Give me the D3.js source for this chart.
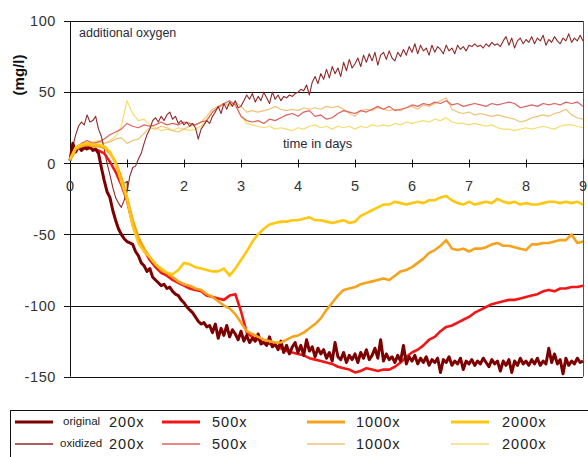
<!DOCTYPE html>
<html>
<head>
<meta charset="utf-8">
<script src="https://cdn.jsdelivr.net/npm/d3@7"></script>
<style>
  body { margin: 0; background: #fff; }
  svg { display: block; font-family: Arial, "Liberation Sans", sans-serif; }
</style>
</head>
<body>
<svg id="chart" width="588" height="457"></svg>
<script>
// Sampling interval (days) of each series
const fineStep = 0.05;   // 200x series
const coarseStep = 0.1;  // 500x, 1000x, 2000x series

// Oxygen difference (mg/l), original samples
const original200x = [
  2,14,8,12,9,11,10,12,9,10,7,-3,-12,-20,-24,-33,-40,-46,-50,-53,
  -55,-56,-57,-62,-65,-70,-72,-76,-74,-80,-82,-84,-86,-85,-88,-87,-90,-92,-93,-96,
  -98,-101,-103,-105,-108,-111,-113,-112,-115,-114,-119,-113,-123,-116,-121,-114,-122,-117,-120,-124,
  -118,-125,-121,-126,-123,-125,-120,-127,-126,-128,-122,-129,-127,-131,-125,-133,-128,-134,-129,-126,
  -133,-128,-135,-124,-132,-129,-136,-130,-134,-131,-137,-133,-139,-126,-136,-138,-133,-140,-135,-138,
  -134,-140,-133,-137,-131,-138,-135,-130,-137,-124,-139,-134,-138,-136,-140,-135,-139,-128,-141,-136,
  -139,-135,-141,-137,-140,-136,-142,-138,-140,-137,-147,-138,-140,-136,-142,-139,-141,-137,-145,-139,
  -141,-138,-142,-139,-141,-137,-140,-143,-138,-141,-139,-146,-139,-142,-138,-147,-139,-142,-137,-141,
  -139,-142,-138,-141,-137,-142,-139,-141,-130,-140,-134,-141,-138,-148,-137,-142,-139,-141,-137,-140,
  -139
];
const original500x = [
  3,10,12,11,10,9,7,1,-6,-15,
  -26,-43,-54,-61,-68,-73,-77,-79,-82,-84,
  -86,-88,-89,-90,-93,-94,-95,-96,-93,-92,
  -104,-119,-122,-124,-126,-127,-128,-130,-132,-133,
  -134,-135,-137,-138,-139,-140,-141,-143,-144,-145,
  -147,-146,-144,-145,-146,-145,-145,-143,-140,-136,
  -133,-131,-128,-124,-122,-118,-115,-114,-112,-110,
  -108,-105,-103,-101,-99,-98,-97,-96,-96,-95,
  -94,-93,-92,-90,-89,-90,-88,-88,-87,-87,
  -86
];
const original1000x = [
  2,10,12,13,12,12,11,7,1,-10,
  -24,-40,-52,-60,-66,-71,-75,-77,-80,-83,
  -85,-86,-88,-89,-92,-94,-97,-100,-102,-106,
  -112,-118,-120,-122,-124,-125,-126,-126,-124,-122,
  -121,-119,-116,-113,-109,-103,-98,-93,-89,-88,
  -87,-85,-84,-83,-82,-81,-82,-79,-76,-75,
  -73,-70,-67,-63,-61,-58,-54,-60,-61,-60,
  -62,-60,-60,-59,-57,-56,-58,-58,-59,-60,
  -61,-57,-57,-56,-56,-55,-54,-54,-50,-56,
  -55
];
const original2000x = [
  3,11,13,14,13,13,12,8,0,-13,
  -25,-44,-56,-62,-66,-71,-74,-77,-78,-75,
  -70,-71,-73,-74,-75,-76,-76,-74,-79,-74,
  -68,-62,-55,-50,-46,-43,-42,-41,-41,-40,
  -40,-39,-38,-40,-40,-41,-42,-41,-40,-42,
  -41,-37,-35,-33,-31,-29,-29,-27,-28,-29,
  -28,-27,-28,-26,-26,-24,-23,-26,-28,-29,
  -27,-29,-28,-27,-28,-25,-27,-28,-27,-29,
  -28,-29,-29,-28,-27,-27,-28,-27,-28,-27,
  -29
];

// Oxygen difference (mg/l), oxidized samples
const oxidized200x = [
  2,12,20,26,29,27,34,29,30,33,24,19,10,0,-8,-17,-24,-28,-31,-26,
  -20,-9,-3,-2,3,7,14,20,24,30,32,29,33,30,34,36,31,33,28,30,
  27,29,26,28,25,17,24,27,30,28,33,36,40,35,42,38,43,40,44,39,
  40,44,48,45,49,43,47,44,50,46,42,50,45,48,44,47,46,48,47,49,
  50,52,51,55,48,57,61,56,63,59,66,60,68,63,67,61,71,65,73,67,
  70,74,68,76,71,77,72,78,69,76,78,73,79,74,72,78,75,80,76,82,
  78,84,77,83,79,81,76,83,78,82,80,77,83,79,81,77,83,80,82,79,
  83,82,84,82,83,81,84,82,85,83,84,82,86,89,83,88,81,86,88,84,
  87,85,89,84,88,86,90,83,87,85,89,86,84,88,86,91,85,88,86,90,
  86
];
const oxidized500x = [
  3,10,14,16,14,15,17,20,22,24,
  28,26,25,27,26,27,29,27,28,27,
  29,28,27,29,30,36,39,42,44,41,
  33,30,29,30,28,31,30,32,34,35,
  33,36,37,33,34,31,32,35,37,36,
  35,37,36,38,40,38,40,37,38,39,
  41,40,42,41,43,42,44,41,42,40,
  41,42,41,40,42,41,42,43,42,39,
  40,41,40,42,41,42,41,43,42,43,
  40
];
const oxidized1000x = [
  2,8,12,14,13,15,14,15,17,18,
  14,16,17,21,25,24,26,25,23,22,
  24,26,27,29,33,38,40,42,41,43,
  40,36,37,36,37,38,40,38,37,38,
  37,39,38,39,38,40,39,40,38,35,
  33,37,38,37,39,38,37,38,37,39,
  40,38,41,40,42,44,46,38,36,35,
  36,34,35,34,33,34,33,32,31,29,
  30,32,33,34,33,35,36,38,34,32,
  31
];
const oxidized2000x = [
  3,9,13,14,15,16,14,16,19,26,
  44,35,30,31,27,25,23,24,23,25,
  24,23,24,26,31,36,40,42,40,42,
  33,28,27,26,25,26,24,25,24,23,
  25,24,26,27,25,26,24,26,25,26,
  24,26,25,27,26,27,26,28,27,29,
  28,29,30,29,31,30,32,29,28,28,
  27,28,27,26,27,25,24,24,23,24,
  25,24,25,26,25,24,26,27,27,26,
  25
];

// Axis ticks
const xTicks = [0, 1, 2, 3, 4, 5, 6, 7, 8, 9];
const yTicks = [100, 50, 0, -50, -100, -150];

// Series: name, values, sampling step, color, width, legend slot
const seriesList = [
  { key: "oxidized 2000x", values: oxidized2000x, step: coarseStep, color: "#f6dc6c", width: 1.2, col: 3, row: 1, label: "2000x" },
  { key: "oxidized 1000x", values: oxidized1000x, step: coarseStep, color: "#f0c277", width: 1.2, col: 2, row: 1, label: "1000x" },
  { key: "oxidized 500x",  values: oxidized500x,  step: coarseStep, color: "#de6262", width: 1.2, col: 1, row: 1, label: "500x" },
  { key: "oxidized 200x",  values: oxidized200x,  step: fineStep,   color: "#8e2a2a", width: 1.1, col: 0, row: 1, label: "200x", prefix: "oxidized" },
  { key: "original 500x",  values: original500x,  step: coarseStep, color: "#f31616", width: 2.6, col: 1, row: 0, label: "500x" },
  { key: "original 200x",  values: original200x,  step: fineStep,   color: "#7d0000", width: 3,   col: 0, row: 0, label: "200x", prefix: "original" },
  { key: "original 1000x", values: original1000x, step: coarseStep, color: "#f6a21c", width: 2.6, col: 2, row: 0, label: "1000x" },
  { key: "original 2000x", values: original2000x, step: coarseStep, color: "#ffc70f", width: 2.6, col: 3, row: 0, label: "2000x" }
];

const svg = d3.select("#chart");
const x = d3.scaleLinear().domain([0, 9]).range([70, 583]);
const y = d3.scaleLinear().domain([-150, 100]).range([376.7, 21]);
const textColor = "#333";

// Horizontal grid lines with short outer ticks
svg.append("g").selectAll("line").data(yTicks).join("line")
  .attr("x1", 64).attr("x2", x(9))
  .attr("y1", d => Math.round(y(d)) + 0.5).attr("y2", d => Math.round(y(d)) + 0.5)
  .attr("stroke", "#111").attr("stroke-width", 1);

// Y tick labels
svg.append("g").selectAll("text").data(yTicks).join("text")
  .attr("x", 56).attr("y", d => y(d)).attr("dy", "0.36em")
  .attr("text-anchor", "end").attr("font-size", 14.5).attr("fill", textColor)
  .attr("letter-spacing", 0.6)
  .text(d => d);

// Left axis and right border of the plot area
svg.append("line").attr("x1", 70.5).attr("x2", 70.5).attr("y1", y(100)).attr("y2", y(-150))
  .attr("stroke", "#111");
svg.append("line").attr("x1", x(9) + 0.5).attr("x2", x(9) + 0.5).attr("y1", y(100)).attr("y2", y(-150))
  .attr("stroke", "#555");

// Day ticks crossing the zero line
const y0 = Math.round(y(0)) + 0.5;
svg.append("g").selectAll("line").data(xTicks.slice(1)).join("line")
  .attr("x1", d => Math.round(x(d)) + 0.5).attr("x2", d => Math.round(x(d)) + 0.5)
  .attr("y1", y0 - 4).attr("y2", y0 + 4)
  .attr("stroke", "#111");

// Day tick labels
svg.append("g").selectAll("text").data(xTicks).join("text")
  .attr("x", d => x(d)).attr("y", y0 + 27)
  .attr("text-anchor", "middle").attr("font-size", 14.5).attr("fill", textColor)
  .text(d => d);

// Series lines
const lines = svg.append("g").attr("fill", "none").attr("stroke-linejoin", "round");
seriesList.forEach(s => {
  const pts = s.values.map((v, i) => [i * s.step, v]);
  lines.append("path")
    .attr("d", d3.line().x(p => x(p[0])).y(p => y(p[1]))(pts))
    .attr("stroke", s.color).attr("stroke-width", s.width);
});

// Annotations
svg.append("text").attr("x", 79).attr("y", 37).attr("font-size", 12.5).attr("fill", "#2b2b3c")
  .text("additional oxygen");
svg.append("text").attr("x", 283).attr("y", 148).attr("font-size", 13).attr("fill", "#2b2b3c")
  .text("time in days");
svg.append("text").attr("transform", "translate(24,75) rotate(-90)")
  .attr("text-anchor", "middle").attr("font-size", 15).attr("font-weight", "bold").attr("fill", "#111")
  .text("(mg/l)");

// Legend
const legend = svg.append("g");
legend.append("rect").attr("x", 10.5).attr("y", 410.5).attr("width", 600).attr("height", 80)
  .attr("fill", "none").attr("stroke", "#111");
const colLineX = [15, 162, 307, 451];
const colTextX = [109, 212, 356, 502];
const rowY = [422, 444];
seriesList.forEach(s => {
  const ly = rowY[s.row];
  legend.append("line")
    .attr("x1", colLineX[s.col]).attr("x2", colLineX[s.col] + 38)
    .attr("y1", ly).attr("y2", ly)
    .attr("stroke", s.color).attr("stroke-width", s.row === 0 ? 3 : 1.6);
  legend.append("text")
    .attr("x", colTextX[s.col]).attr("y", ly + 5)
    .attr("font-size", 14.5).attr("letter-spacing", 1).attr("fill", "#222")
    .text(s.label);
  if (s.prefix) {
    legend.append("text")
      .attr("x", s.row === 0 ? 63 : 60).attr("y", ly + 3)
      .attr("font-size", 11.5).attr("fill", "#222")
      .text(s.prefix);
  }
});
</script>
</body>
</html>
